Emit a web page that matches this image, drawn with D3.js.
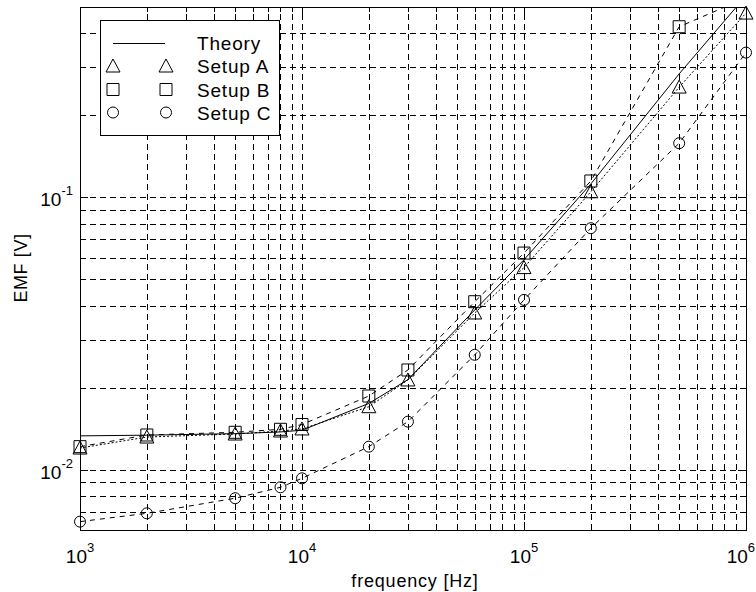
<!DOCTYPE html>
<html>
<head>
<meta charset="utf-8">
<script src="https://cdn.jsdelivr.net/npm/d3@7"></script>
<style>
  body { margin: 0; background: #fff; }
  text { font-family: "Liberation Sans", Arial, sans-serif; fill: #000; }
</style>
</head>
<body>
<div id="chart"></div>
<script>
// values
const freq = [1e3, 2e3, 5e3, 8e3, 1e4, 2e4, 3e4, 6e4, 1e5, 2e5, 5e5, 1e6];
const theory = [0.0133, 0.01338, 0.01355, 0.01375, 0.01395, 0.0175, 0.0214, 0.0386, 0.059, 0.112, 0.284, 0.55];
const setupA = [0.0120, 0.01317, 0.01351, 0.01386, 0.0141, 0.01702, 0.02134, 0.0376, 0.0552, 0.1048, 0.254, 0.475];
const setupB = [0.01214, 0.0134, 0.01371, 0.01406, 0.01464, 0.01863, 0.02322, 0.04136, 0.0624, 0.1148, 0.4231, 0.54];
const setupC = [0.00644, 0.00691, 0.00785, 0.00861, 0.00929, 0.01214, 0.0150, 0.0264, 0.0420, 0.0770, 0.158, 0.340];
const legendLabels = ["Theory", "Setup A", "Setup B", "Setup C"];
const xDecades = [1e3, 1e4, 1e5, 1e6];
const xExponents = ["3", "4", "5", "6"];
const yDecades = [1e-2, 1e-1];
const yExponents = ["-2", "-1"];

const width = 756, height = 592;
const plot = {left: 80, top: 7, right: 746, bottom: 530};

const x = d3.scaleLog().domain([1e3, 1e6]).range([plot.left, plot.right]);
const y = d3.scaleLog().domain([0.006, 0.5]).range([plot.bottom, plot.top]);

const svg = d3.select("#chart").append("svg")
    .attr("width", width)
    .attr("height", height);

svg.append("defs").append("clipPath")
    .attr("id", "clip")
    .append("rect")
    .attr("x", plot.left)
    .attr("y", plot.top)
    .attr("width", plot.right - plot.left)
    .attr("height", plot.bottom - plot.top);

// dashed grid at every major and minor tick
const grid = svg.append("g")
    .attr("stroke", "#000")
    .attr("stroke-width", 1)
    .attr("stroke-dasharray", "6,4")
    .attr("shape-rendering", "crispEdges");

grid.selectAll("line.gx")
    .data(x.ticks())
    .enter()
    .append("line")
    .attr("class", "gx")
    .attr("x1", d => Math.round(x(d)) + 0.5)
    .attr("x2", d => Math.round(x(d)) + 0.5)
    .attr("y1", plot.bottom)
    .attr("y2", plot.top);

grid.selectAll("line.gy")
    .data(y.ticks())
    .enter()
    .append("line")
    .attr("class", "gy")
    .attr("y1", d => Math.round(y(d)) + 0.5)
    .attr("y2", d => Math.round(y(d)) + 0.5)
    .attr("x1", plot.left)
    .attr("x2", plot.right);

// inside tick marks on all four sides
function tickLen(d) {
    const e = Math.log10(d);
    return Math.abs(e - Math.round(e)) < 1e-6 ? 8 : 5;
}

const ticks = svg.append("g")
    .attr("stroke", "#000")
    .attr("stroke-width", 1)
    .attr("shape-rendering", "crispEdges");

x.ticks().forEach(d => {
    const px = Math.round(x(d)) + 0.5;
    ticks.append("line").attr("x1", px).attr("x2", px)
        .attr("y1", plot.bottom).attr("y2", plot.bottom - tickLen(d));
    ticks.append("line").attr("x1", px).attr("x2", px)
        .attr("y1", plot.top).attr("y2", plot.top + tickLen(d));
});
y.ticks().forEach(d => {
    const py = Math.round(y(d)) + 0.5;
    ticks.append("line").attr("y1", py).attr("y2", py)
        .attr("x1", plot.left).attr("x2", plot.left + tickLen(d));
    ticks.append("line").attr("y1", py).attr("y2", py)
        .attr("x1", plot.right).attr("x2", plot.right - tickLen(d));
});

// series
const lineGen = d3.line()
    .x(d => x(d[0]))
    .y(d => y(d[1]));

const series = [
    {name: "Theory", values: theory, dash: null, marker: null},
    {name: "Setup A", values: setupA, dash: "2,2", marker: "triangle"},
    {name: "Setup B", values: setupB, dash: "5,5", marker: "square"},
    {name: "Setup C", values: setupC, dash: "5,5", marker: "circle"}
];

function markerPath(type) {
    if (type == "triangle") return "M0,-7L7,6L-7,6Z";
    if (type == "square") return "M-6,-6H6V6H-6Z";
    return "M5.5,0A5.5,5.5 0 1,1 -5.5,0A5.5,5.5 0 1,1 5.5,0Z";
}

const dataLayer = svg.append("g");

series.forEach(s => {
    const pts = freq.map((f, i) => [f, s.values[i]]);
    dataLayer.append("path")
        .attr("clip-path", "url(#clip)")
        .attr("d", lineGen(pts))
        .attr("fill", "none")
        .attr("stroke", "#000")
        .attr("stroke-width", 1)
        .attr("stroke-dasharray", s.dash);
    if (s.marker) {
        dataLayer.selectAll("path.m" + s.marker)
            .data(pts.filter(p => p[1] <= 0.5))
            .enter()
            .append("path")
            .attr("class", "m" + s.marker)
            .attr("transform", p => "translate(" + x(p[0]) + "," + y(p[1]) + ")")
            .attr("d", markerPath(s.marker))
            .attr("fill", "none")
            .attr("stroke", "#000")
            .attr("stroke-width", 1);
    }
});

// axes box
svg.append("rect")
    .attr("x", plot.left + 0.5)
    .attr("y", plot.top + 0.5)
    .attr("width", plot.right - plot.left)
    .attr("height", plot.bottom - plot.top)
    .attr("fill", "none")
    .attr("stroke", "#000")
    .attr("shape-rendering", "crispEdges");

// tick labels 10^n
xDecades.forEach((d, i) => {
    const last = i == xDecades.length - 1;
    const t = svg.append("text")
        .attr("x", last ? width - 1 : x(d))
        .attr("y", plot.bottom + 33)
        .attr("text-anchor", last ? "end" : "middle")
        .style("font-size", "19px");
    t.append("tspan").text("10");
    t.append("tspan").attr("dy", -11).style("font-size", "13px").text(xExponents[i]);
});

yDecades.forEach((d, i) => {
    const t = svg.append("text")
        .attr("x", plot.left - 7)
        .attr("y", y(d) + 9)
        .attr("text-anchor", "end")
        .style("font-size", "19px");
    t.append("tspan").text("10");
    t.append("tspan").attr("dy", -11).style("font-size", "13px").text(yExponents[i]);
});

svg.append("text")
    .attr("x", 415)
    .attr("y", 587)
    .attr("text-anchor", "middle")
    .style("font-size", "18px")
    .style("letter-spacing", "0.8px")
    .text("frequency [Hz]");

svg.append("text")
    .attr("transform", "translate(27," + 268 + ") rotate(-90)")
    .attr("text-anchor", "middle")
    .style("font-size", "18px")
    .style("letter-spacing", "0.6px")
    .text("EMF [V]");

// legend
const legend = svg.append("g");
legend.append("rect")
    .attr("x", 100.5)
    .attr("y", 20.5)
    .attr("width", 179)
    .attr("height", 115)
    .attr("fill", "#fff")
    .attr("stroke", "#000")
    .attr("shape-rendering", "crispEdges");

const rowY = [43, 66, 89.5, 112.5];
series.forEach((s, i) => {
    if (s.marker) {
        [113, 166].forEach(mx => {
            legend.append("path")
                .attr("transform", "translate(" + mx + "," + rowY[i] + ")")
                .attr("d", markerPath(s.marker))
                .attr("fill", "none")
                .attr("stroke", "#000");
        });
    } else {
        legend.append("line")
            .attr("x1", 113).attr("x2", 165)
            .attr("y1", rowY[i] + 0.5).attr("y2", rowY[i] + 0.5)
            .attr("stroke", "#000")
            .attr("shape-rendering", "crispEdges");
    }
    legend.append("text")
        .attr("x", 197)
        .attr("y", rowY[i] + 7)
        .style("font-size", "19px")
        .style("letter-spacing", "0.8px")
        .text(legendLabels[i]);
});
</script>
</body>
</html>
